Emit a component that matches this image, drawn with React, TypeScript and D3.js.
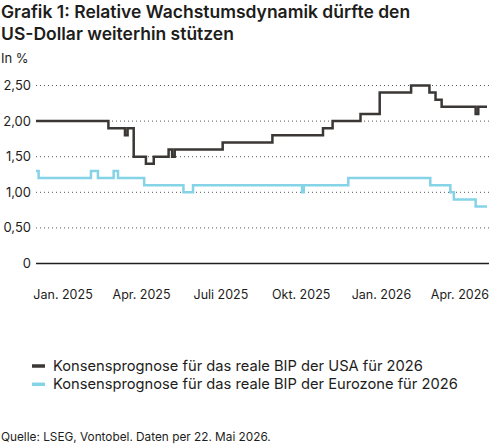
import * as d3 from "d3";

// Konsensprognosen für das reale BIP 2026 (Änderungspunkte, Stufenverlauf)
const usaDates = [
  "2024-12-01", "2025-02-22", "2025-03-13", "2025-03-16", "2025-03-23", "2025-04-06",
  "2025-04-15", "2025-05-02", "2025-05-06", "2025-05-09", "2025-07-03", "2025-08-29",
  "2025-10-26", "2025-11-06", "2025-12-08", "2025-12-30", "2026-02-04", "2026-02-25",
  "2026-03-04", "2026-03-11", "2026-04-19", "2026-04-22", "2026-05-02",
];
const usaValues = [
  2.0, 1.9, 1.8, 1.9, 1.5, 1.4,
  1.5, 1.6, 1.5, 1.6, 1.7, 1.8,
  1.9, 2.0, 2.1, 2.4, 2.5, 2.4,
  2.3, 2.2, 2.1, 2.2, 2.2,
];

const euroDates = [
  "2024-12-01", "2024-12-04", "2025-02-02", "2025-02-10", "2025-02-28", "2025-03-05",
  "2025-04-04", "2025-05-19", "2025-05-30", "2025-10-02", "2025-10-04", "2025-11-24",
  "2026-02-26", "2026-03-21", "2026-03-25", "2026-04-19", "2026-05-02",
];
const euroValues = [
  1.3, 1.2, 1.3, 1.2, 1.3, 1.2,
  1.1, 1.0, 1.1, 1.0, 1.1, 1.2,
  1.1, 1.0, 0.9, 0.8, 0.8,
];

const yTicks = [0, 0.5, 1, 1.5, 2, 2.5];
const xTickDates = ["2025-01-01", "2025-04-01", "2025-07-01", "2025-10-01", "2026-01-01", "2026-04-01"];
const xTickLabels = ["Jan. 2025", "Apr. 2025", "Juli 2025", "Okt. 2025", "Jan. 2026", "Apr. 2026"];

const seriesNames = [
  "Konsensprognose für das reale BIP der USA für 2026",
  "Konsensprognose für das reale BIP der Eurozone für 2026",
];
const seriesColors = ["#3a3735", "#84d3e7"];

const W = 496;
const H = 445;
const FONT = "Inter, 'Noto Sans', sans-serif";

const parse = d3.utcParse("%Y-%m-%d");
const de = d3.formatLocale({ decimal: ",", thousands: ".", grouping: [3], currency: ["", " €"] });
const fmt = de.format(".2f");

export default function App() {
  const x = d3
    .scaleUtc()
    .domain([parse("2024-12-01")!, parse("2026-05-02")!])
    .range([36, 487]);
  const y = d3.scaleLinear().domain([0, 2.5]).range([263.5, 85.5]);

  const line = d3
    .line<[Date, number]>()
    .x((d) => x(d[0]))
    .y((d) => y(d[1]))
    .curve(d3.curveStepAfter);

  const usa = usaDates.map((d, i) => [parse(d)!, usaValues[i]] as [Date, number]);
  const euro = euroDates.map((d, i) => [parse(d)!, euroValues[i]] as [Date, number]);

  return (
    <svg
      width={W}
      height={H}
      style={{ position: "absolute", left: 0, top: 0, background: "#fff" }}
      fontFamily={FONT}
    >
      <text x={1} y={17.5} fontSize={17.5} fontWeight={600} fill="#1d1d1b">
        Grafik 1: Relative Wachstumsdynamik dürfte den
      </text>
      <text x={1} y={39.5} fontSize={17.5} fontWeight={600} fill="#1d1d1b">
        US-Dollar weiterhin stützen
      </text>
      <text x={1} y={62.5} fontSize={13} fill="#1d1d1b">
        In %
      </text>

      {yTicks.map((t) => (
        <g key={t}>
          {t !== 0 && (
            <line
              x1={36}
              x2={489}
              y1={y(t)}
              y2={y(t)}
              stroke="#555"
              strokeWidth={1}
              strokeDasharray="1 3"
            />
          )}
          <text x={31} y={y(t)} dy="0.35em" textAnchor="end" fontSize={13} fill="#1d1d1b">
            {t === 0 ? "0" : fmt(t)}
          </text>
        </g>
      ))}

      {xTickDates.map((d, i) => (
        <text key={d} x={x(parse(d)!)} y={299} textAnchor="middle" fontSize={12.5} fill="#1d1d1b">
          {xTickLabels[i]}
        </text>
      ))}

      <path d={line(euro)!} fill="none" stroke={seriesColors[1]} strokeWidth={2.5} />
      <path d={line(usa)!} fill="none" stroke={seriesColors[0]} strokeWidth={2.5} />

      <line x1={36} x2={489} y1={y(0)} y2={y(0)} stroke="#231f20" strokeWidth={1.5} />

      {seriesNames.map((n, i) => (
        <g key={n} transform={`translate(32, ${366 + i * 18.3})`}>
          <line x1={0} x2={13} y1={0} y2={0} stroke={seriesColors[i]} strokeWidth={3.5} />
          <text x={21} y={0} dy="0.35em" fontSize={14.7} fill="#1d1d1b">
            {n}
          </text>
        </g>
      ))}

      <text x={1} y={440.5} fontSize={11.8} fill="#1d1d1b">
        Quelle: LSEG, Vontobel. Daten per 22. Mai 2026.
      </text>
    </svg>
  );
}
